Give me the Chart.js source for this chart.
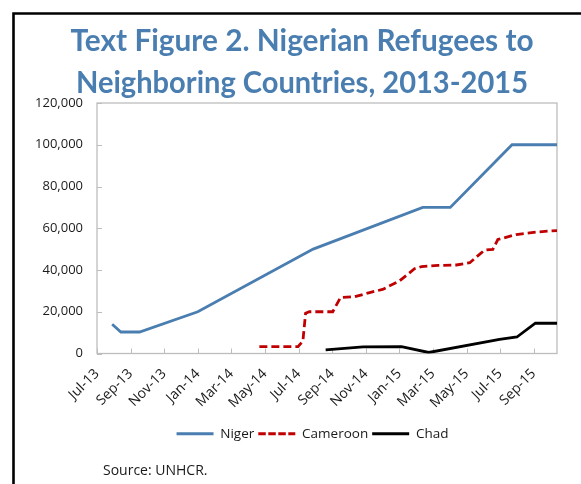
<!DOCTYPE html>
<html><head><meta charset="utf-8">
<script src="https://cdn.jsdelivr.net/npm/chart.js@4.4.1/dist/chart.umd.min.js"></script>
<style>html,body{margin:0;padding:0;background:#fff;}#wrap{width:581px;height:484px;position:relative;}</style>
</head><body><div id="wrap"><canvas id="c" width="581" height="484"></canvas></div>
<script>
const titleLines = ['Text Figure 2. Nigerian Refugees to', 'Neighboring Countries, 2013-2015'];
const sourceNote = 'Source: UNHCR.';
const tickLabels = ['Jul-13','Sep-13','Nov-13','Jan-14','Mar-14','May-14','Jul-14','Sep-14','Nov-14','Jan-15','Mar-15','May-15','Jul-15','Sep-15'];
const axisStart = '2013-07-01';
const axisEnd = '2015-10-13';
const yMax = 120000;
const yStep = 20000;

const seriesNames = ['Niger', 'Cameroon', 'Chad'];

const nigerDates  = ['2013-07-29','2013-08-14','2013-09-17','2014-01-01','2014-07-28','2015-02-12','2015-04-02','2015-07-23','2015-10-13'];
const nigerValues = [14000, 10300, 10300, 20000, 50000, 70000, 70000, 100000, 100000];

const cameroonDates  = ['2014-04-21','2014-06-30','2014-07-09','2014-07-14','2014-07-21','2014-09-02','2014-09-16','2014-10-12','2014-11-08','2014-12-01','2015-01-01','2015-01-29','2015-02-10','2015-03-10','2015-04-13','2015-05-07','2015-06-03','2015-06-18','2015-06-27','2015-07-31','2015-09-11','2015-10-13'];
const cameroonValues = [3300, 3300, 6000, 19300, 20000, 20000, 26800, 27200, 29200, 30700, 34700, 40600, 41600, 42200, 42400, 43500, 49500, 49900, 54600, 57000, 58300, 58900];

const chadDates  = ['2014-08-20','2014-10-27','2015-01-05','2015-02-22','2015-06-30','2015-08-01','2015-09-04','2015-10-13'];
const chadValues = [1700, 3200, 3300, 500, 6800, 7900, 14500, 14500];

// months elapsed since the start of the axis (Jul 2013)
function monthIndex(s) {
  const [y, m, d] = s.split('-').map(Number);
  const dim = new Date(y, m, 0).getDate();
  return (y - 2013) * 12 + (m - 7) + (d - 1) / dim;
}
const toPoints = (dates, vals) => dates.map((d, i) => ({x: monthIndex(d), y: vals[i]}));

const BLUE = '#4A7EB1', RED = '#C00000', BLACK = '#000000';

const decor = {
  id: 'decor',
  afterLayout(chart) {
    // legend in the reference sits slightly right of the canvas centre
    if (chart.legend) { chart.legend.left += 19; chart.legend.right += 19; }
  },
  beforeDraw(chart) {
    const ctx = chart.ctx;
    ctx.save(); ctx.fillStyle = '#fff'; ctx.fillRect(0, 0, chart.width, chart.height); ctx.restore();
  },
  beforeDatasetsDraw(chart) {
    const {ctx, chartArea: a, scales: {x, y}} = chart;
    ctx.save();
    ctx.strokeStyle = '#BDBDBD';
    ctx.lineWidth = 1.3;
    ctx.strokeRect(a.left, a.top, a.right - a.left, a.bottom - a.top);
    ctx.beginPath();
    x.ticks.forEach(t => { const px = Math.round(x.getPixelForValue(t.value)) + 0.5; ctx.moveTo(px, a.bottom); ctx.lineTo(px, a.bottom - 5); });
    y.ticks.forEach(t => { const py = Math.round(y.getPixelForValue(t.value)) + 0.5; ctx.moveTo(a.left, py); ctx.lineTo(a.left + 5, py); });
    ctx.lineWidth = 1;
    ctx.stroke();
    ctx.restore();
  },
  afterDraw(chart) {
    const ctx = chart.ctx;
    ctx.save();
    // outer frame (open at right and bottom)
    ctx.strokeStyle = '#000'; ctx.lineWidth = 2.6;
    ctx.beginPath(); ctx.moveTo(13.5, 484); ctx.lineTo(13.5, 13.5); ctx.lineTo(581, 13.5); ctx.stroke();
    // title
    ctx.fillStyle = BLUE;
    ctx.font = 'bold 30px Lato';
    ctx.textBaseline = 'alphabetic';
    ctx.textAlign = 'left';
    const targets = [{w: 463, cx: 302, base: 51}, {w: 452, cx: 302, base: 93}];
    titleLines.forEach((line, i) => {
      const w = ctx.measureText(line).width;
      const sx = targets[i].w / w;
      ctx.save();
      ctx.translate(targets[i].cx - targets[i].w / 2, targets[i].base);
      ctx.scale(sx, 1);
      ctx.fillText(line, 0, 0);
      ctx.restore();
    });
    // source
    ctx.fillStyle = '#1a1a1a';
    ctx.font = '14px "Open Sans"';
    ctx.textBaseline = 'middle';
    ctx.fillText(sourceNote, 103, 471);
    ctx.restore();
  }
};

Chart.defaults.font.family = '"Open Sans", sans-serif';
Chart.defaults.font.size = 13;
Chart.defaults.color = '#1a1a1a';

new Chart(document.getElementById('c'), {
  type: 'line',
  data: {
    datasets: [
      {label: seriesNames[0], data: toPoints(nigerDates, nigerValues), borderColor: BLUE, backgroundColor: BLUE, borderWidth: 2.8, pointRadius: 0, tension: 0},
      {label: seriesNames[1], data: toPoints(cameroonDates, cameroonValues), borderColor: RED, backgroundColor: RED, borderWidth: 2.8, borderDash: [8, 4], pointRadius: 0, tension: 0},
      {label: seriesNames[2], data: toPoints(chadDates, chadValues), borderColor: BLACK, backgroundColor: BLACK, borderWidth: 2.8, pointRadius: 0, tension: 0}
    ]
  },
  options: {
    responsive: false,
    animation: false,
    devicePixelRatio: 1,
    layout: {padding: {left: 30, right: 24, top: 103, bottom: 33.5}},
    plugins: {
      title: {display: false},
      tooltip: {enabled: false},
      legend: {
        position: 'bottom',
        labels: {
          usePointStyle: true, pointStyle: 'line', pointStyleWidth: 37, padding: 4, font: {size: 13.5},
          generateLabels: chart => {
            const items = Chart.defaults.plugins.legend.labels.generateLabels(chart);
            items.forEach(it => {
              const ds = chart.data.datasets[it.datasetIndex];
              it.strokeStyle = ds.borderColor;
              it.fillStyle = ds.borderColor;
              it.lineWidth = ds.borderWidth;
              it.lineDash = ds.borderDash ? [7.5, 2.5] : [];
              it.lineCap = 'butt';
            });
            return items;
          }
        }
      }
    },
    scales: {
      x: {
        type: 'linear',
        min: monthIndex(axisStart),
        max: monthIndex(axisEnd),
        grid: {display: false, drawTicks: false},
        border: {display: false},
        afterBuildTicks: s => { s.ticks = tickLabels.map((_, i) => ({value: i * 2})); },
        afterFit: s => { s.height = 69.5; },
        ticks: {autoSkip: false, maxRotation: 45, minRotation: 45, padding: 12, font: {size: 14},
          callback: (v, i) => tickLabels[i]}
      },
      y: {
        min: 0, max: yMax,
        grid: {display: false, drawTicks: false},
        border: {display: false},
        afterFit: s => { s.width = 67; },
        ticks: {stepSize: yStep, padding: 14, font: {size: 13},
          callback: v => v.toLocaleString('en-US')}
      }
    }
  },
  plugins: [decor]
});
</script></body></html>
